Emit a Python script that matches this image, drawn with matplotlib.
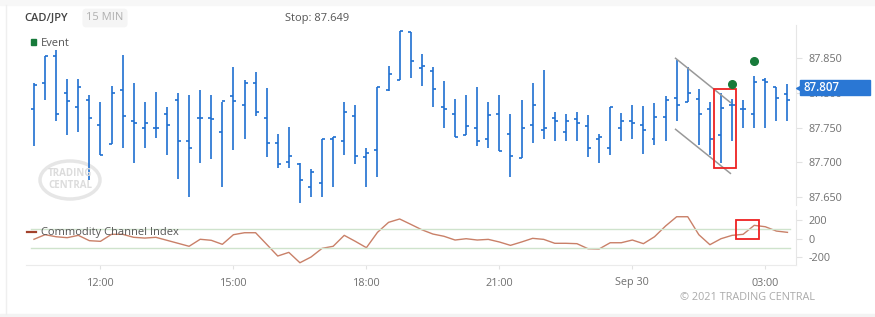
import matplotlib.pyplot as plt
import numpy as np
from matplotlib.patches import Rectangle, Ellipse
from matplotlib.lines import Line2D
from matplotlib.transforms import blended_transform_factory

plt.rcParams['font.family'] = ['Open Sans', 'DejaVu Sans']

# 15 min OHLC bars, 10:30 -> 03:30
opens = [87.776, 87.814, 87.853, 87.799, 87.779, 87.789, 87.754, 87.726, 87.804, 87.760,
         87.750, 87.750, 87.770, 87.789, 87.730, 87.763, 87.763, 87.743, 87.796, 87.783,
         87.814, 87.763, 87.727, 87.701, 87.697, 87.664, 87.670, 87.733, 87.730, 87.766,
         87.707, 87.717, 87.804, 87.819, 87.887, 87.835, 87.831, 87.779, 87.769, 87.739,
         87.750, 87.734, 87.769, 87.740, 87.706, 87.753, 87.746, 87.763, 87.744, 87.762,
         87.752, 87.733, 87.721, 87.750, 87.760, 87.753, 87.733, 87.765, 87.793, 87.786,
         87.791, 87.776, 87.739, 87.783, 87.776, 87.770, 87.818, 87.809, 87.798]
highs = [87.814, 87.853, 87.862, 87.820, 87.820, 87.797, 87.786, 87.810, 87.855, 87.814,
         87.786, 87.801, 87.779, 87.799, 87.797, 87.804, 87.797, 87.786, 87.837, 87.818,
         87.830, 87.807, 87.741, 87.751, 87.699, 87.691, 87.734, 87.736, 87.786, 87.783,
         87.720, 87.808, 87.838, 87.889, 87.887, 87.856, 87.837, 87.817, 87.791, 87.797,
         87.808, 87.787, 87.797, 87.769, 87.790, 87.814, 87.833, 87.772, 87.769, 87.772,
         87.768, 87.741, 87.780, 87.771, 87.783, 87.781, 87.785, 87.795, 87.847, 87.837,
         87.805, 87.786, 87.799, 87.791, 87.789, 87.824, 87.821, 87.809, 87.812]
lows = [87.724, 87.790, 87.760, 87.739, 87.743, 87.674, 87.710, 87.726, 87.720, 87.699,
        87.720, 87.735, 87.710, 87.676, 87.650, 87.699, 87.705, 87.664, 87.718, 87.733,
        87.766, 87.707, 87.692, 87.692, 87.642, 87.650, 87.650, 87.664, 87.710, 87.697,
        87.664, 87.679, 87.802, 87.818, 87.821, 87.810, 87.780, 87.750, 87.737, 87.739,
        87.724, 87.720, 87.716, 87.679, 87.706, 87.727, 87.733, 87.730, 87.730, 87.730,
        87.707, 87.699, 87.710, 87.730, 87.734, 87.712, 87.725, 87.730, 87.760, 87.786,
        87.725, 87.711, 87.699, 87.730, 87.750, 87.750, 87.750, 87.760, 87.760]
closes = [87.811, 87.853, 87.769, 87.788, 87.809, 87.763, 87.710, 87.799, 87.767, 87.757,
          87.756, 87.750, 87.754, 87.730, 87.721, 87.763, 87.762, 87.788, 87.788, 87.814,
          87.773, 87.727, 87.697, 87.709, 87.674, 87.686, 87.734, 87.736, 87.772, 87.709,
          87.714, 87.808, 87.827, 87.889, 87.845, 87.838, 87.805, 87.776, 87.737, 87.752,
          87.730, 87.768, 87.716, 87.709, 87.750, 87.783, 87.750, 87.759, 87.760, 87.756,
          87.720, 87.737, 87.780, 87.759, 87.756, 87.746, 87.765, 87.789, 87.782, 87.799,
          87.769, 87.734, 87.778, 87.782, 87.776, 87.815, 87.815, 87.793, 87.789]
cci = [-6, 43, 21, 11, 36, -21, -28, 47, 47, 15,
       7, 15, -17, -49, -81, -6, -17, -60, 43, 64,
       64, -60, -185, -146, -257, -196, -103, -81, 36, -28,
       -96, 68, 175, 211, 154, 96, 50, 26, -14, 0,
       -14, -7, -35, -71, -35, 4, -7, -49, -49, -53,
       -107, -110, -43, -43, -14, -53, 21, 136, 235, 235,
       43, -64, 0, 36, 47, 143, 128, 82, 68]

tick_pos = [6, 18, 30, 42, 54, 66]
tick_labels = ['12:00', '15:00', '18:00', '21:00', 'Sep 30', '03:00']
price_ticks = [87.650, 87.700, 87.750, 87.800, 87.850]
cci_ticks = [-200, 0, 200]
cci_bands = [-100, 100]
last_price = 87.807
stop_price = 87.649

event_x = [63, 65]
event_y = [87.812, 87.845]
chan_x = [57.9, 62.85]
chan_upper = [87.8496, 87.786]
chan_lower = [87.7474, 87.684]
box_price = [61.4, 63.4, 87.692, 87.806]
box_cci = [63.4, 65.4, 0, 200]

BLUE = '#1f6fd1'
W, H = 875, 317


def frac(x0, y0, x1, y1):
    return [x0 / W, 1 - y1 / H, (x1 - x0) / W, (y1 - y0) / H]


fig = plt.figure(figsize=(W / 100, H / 100), dpi=100)
fig.patch.set_facecolor('white')

# card frame
fig.patches.append(Rectangle((0, 1 - 5 / H), 1, 5 / H, transform=fig.transFigure,
                             color='#f7f7f7', zorder=0))
fig.patches.append(Rectangle((0, 0), 1, 3.5 / H, transform=fig.transFigure,
                             color='#f3f3f3', zorder=0))
fig.lines.append(Line2D([5.6 / W, 5.6 / W], [3.5 / H, 1 - 5 / H], transform=fig.transFigure,
                        color='#efefef', lw=1))

ax = fig.add_axes(frac(26, 25, 796, 205))
ax2 = fig.add_axes(frac(26, 210, 796, 265), sharex=ax)

x = np.arange(len(opens))
tick = 0.27
ax.vlines(x, lows, highs, color=BLUE, lw=1.2)
ax.hlines(opens, x - tick, x, color=BLUE, lw=1.2)
ax.hlines(closes, x, x + tick, color=BLUE, lw=1.2)

# pattern drawings
ax.plot(chan_x, chan_upper, color='#999999', lw=1.1)
ax.plot(chan_x, chan_lower, color='#999999', lw=1.1)
ax.add_patch(Rectangle((box_price[0], box_price[2]), box_price[1] - box_price[0],
                       box_price[3] - box_price[2], fill=False, edgecolor='#ee2222', lw=1.3, zorder=5))
ax.plot(event_x, event_y, 'o', color='#177a3a', ms=5.5, zorder=6)

ax.set_xlim(-0.72, 68.77)
ax.set_ylim(87.6385, 87.8975)
ax.yaxis.tick_right()
ax.set_yticks(price_ticks)
ax.set_yticklabels([f'{v:.3f}' for v in price_ticks])
ax.tick_params(axis='y', length=4, color='#e2e2e2', labelcolor='#707070', labelsize=7.8, pad=5)
ax.tick_params(axis='x', length=0, labelbottom=False)
for s in ['top', 'left', 'bottom']:
    ax.spines[s].set_visible(False)
ax.spines['right'].set_color('#e6e6e6')

# current price tag
bt = blended_transform_factory(ax.transAxes, ax.transData)
ax.add_patch(Rectangle(((800 - 26) / 770, last_price - 0.0108), 70 / 770, 0.0216,
                       transform=bt, color='#2a77d4', clip_on=False, zorder=8))
ax.plot([1.0045], [last_price], marker='<', color='#2a77d4', ms=4.5, transform=bt, clip_on=False, zorder=8)
ax.text((804 - 26) / 770, last_price, f'{last_price:.3f}', transform=bt, color='white',
        fontsize=8.3, fontweight='semibold', va='center', ha='left', zorder=9)

# watermark
ax.add_patch(Ellipse((70 / W, 1 - 180 / H), 60 / W, 38 / H, transform=fig.transFigure,
                     fill=False, edgecolor='#e6e6e6', lw=2.5, zorder=0))
fig.text(70 / W, 1 - 174 / H, 'TRADING', color='#dcdcdc', fontsize=7, fontweight='bold',
         ha='center', va='center')
fig.text(70 / W, 1 - 185 / H, 'CENTRAL', color='#dcdcdc', fontsize=7, fontweight='bold',
         ha='center', va='center')

# CCI panel
ax2.plot(x, cci, color='#c98068', lw=1)
for b in cci_bands:
    ax2.axhline(b, xmin=(31 - 26) / 770, xmax=(790 - 26) / 770, color='#cfe3cc', lw=1)
ax2.add_patch(Rectangle((box_cci[0], box_cci[2]), box_cci[1] - box_cci[0],
                        box_cci[3] - box_cci[2], fill=False, edgecolor='#ee2222', lw=1.3, zorder=5))
ax2.set_ylim(-281, 307)
ax2.yaxis.tick_right()
ax2.set_yticks(cci_ticks)
ax2.set_yticklabels([str(v) for v in cci_ticks])
ax2.tick_params(axis='y', length=4, color='#e2e2e2', labelcolor='#707070', labelsize=7.8, pad=5)
ax2.set_xticks(tick_pos)
ax2.set_xticklabels(tick_labels)
ax2.tick_params(axis='x', length=3, color='#e2e2e2', labelcolor='#707070', labelsize=7.8, pad=6)
for s in ['top', 'left']:
    ax2.spines[s].set_visible(False)
ax2.spines['right'].set_color('#e6e6e6')
ax2.spines['bottom'].set_color('#ebebeb')

# header texts
fig.text(24 / W, 1 - 18 / H, 'CAD/JPY', color='#444444', fontsize=8, fontweight='semibold', va='center')
fig.text(105 / W, 1 - 18 / H, '15 MIN', color='#b0b0b0', fontsize=8, ha='center', va='center',
         bbox=dict(boxstyle='round,pad=0.35', facecolor='#f5f5f5', edgecolor='none'))
fig.text(285 / W, 1 - 18 / H, f'Stop: {stop_price:.3f}', color='#555555', fontsize=8, va='center')
fig.patches.append(Rectangle((30.7 / W, 1 - 44.5 / H), 5 / W, 5 / H, transform=fig.transFigure,
                             color='#177a3a'))
fig.text(41 / W, 1 - 43 / H, 'Event', color='#555555', fontsize=8, va='center')
fig.lines.append(Line2D([27 / W, 36 / W], [1 - 232.3 / H, 1 - 232.3 / H], transform=fig.transFigure,
                        color='#a3412c', lw=1.6))
fig.text(41 / W, 1 - 233 / H, 'Commodity Channel Index', color='#555555', fontsize=8, va='center')
fig.text(815 / W, 1 - 298 / H, '\u00a9 2021 TRADING CENTRAL', color='#aaaaaa', fontsize=7.8,
         ha='right', va='center')

fig.savefig('out.png', dpi=100)
